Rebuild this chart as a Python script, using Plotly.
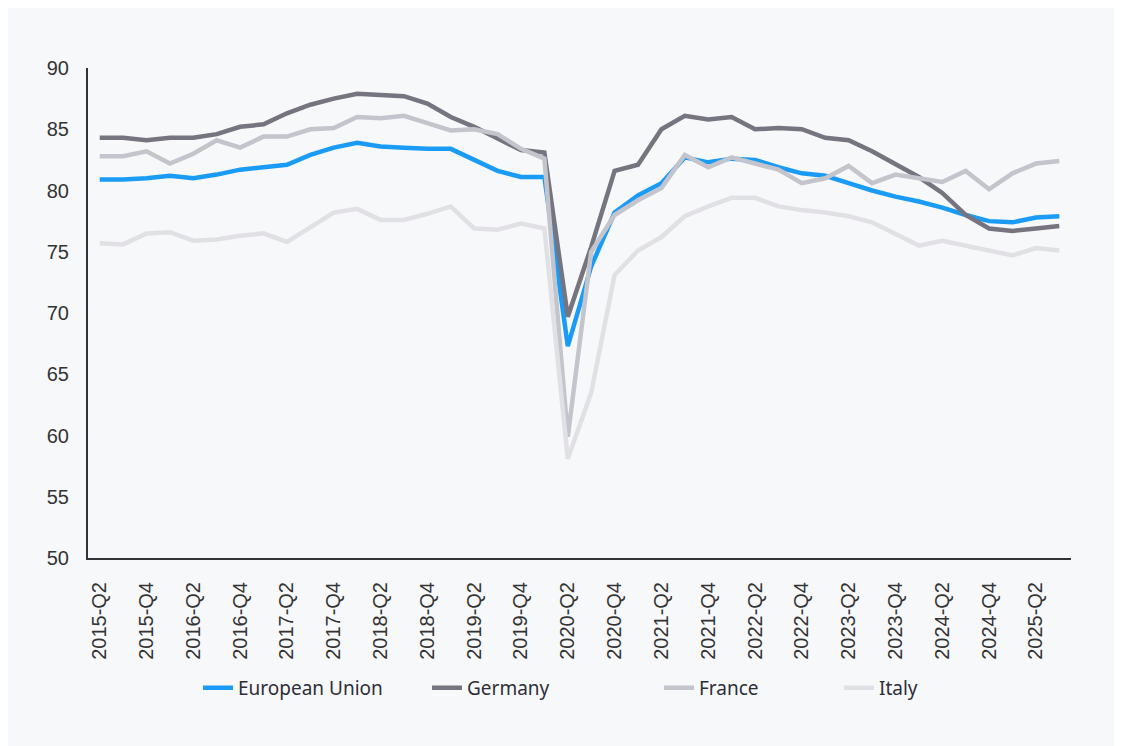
import plotly.graph_objects as go

quarters = []
for y in range(2015, 2026):
    for q in range(1, 5):
        quarters.append(f"{y}-Q{q}")
quarters = quarters[quarters.index("2015-Q2"):quarters.index("2025-Q3") + 1]

eu = [80.9, 80.9, 81.0, 81.2, 81.0, 81.3, 81.7, 81.9, 82.1, 82.9, 83.5, 83.9,
      83.6, 83.5, 83.4, 83.4, 82.5, 81.6, 81.1, 81.1, 67.3, 73.8, 78.2, 79.6,
      80.6, 82.7, 82.3, 82.6, 82.5, 81.9, 81.4, 81.2, 80.6, 80.0, 79.5, 79.1,
      78.6, 78.0, 77.5, 77.4, 77.8, 77.9]
germany = [84.3, 84.3, 84.1, 84.3, 84.3, 84.6, 85.2, 85.4, 86.3, 87.0, 87.5, 87.9,
           87.8, 87.7, 87.1, 86.0, 85.2, 84.2, 83.3, 83.1, 69.7, 75.4, 81.6, 82.1,
           85.0, 86.1, 85.8, 86.0, 85.0, 85.1, 85.0, 84.3, 84.1, 83.2, 82.2, 81.1,
           79.8, 78.0, 76.9, 76.7, 76.9, 77.1]
france = [82.8, 82.8, 83.2, 82.2, 83.0, 84.1, 83.5, 84.4, 84.4, 85.0, 85.1, 86.0,
          85.9, 86.1, 85.5, 84.9, 85.0, 84.6, 83.4, 82.6, 59.9, 75.0, 78.0, 79.2,
          80.2, 82.9, 81.9, 82.7, 82.2, 81.7, 80.6, 81.0, 82.0, 80.6, 81.3, 81.0,
          80.7, 81.6, 80.1, 81.4, 82.2, 82.4]
italy = [75.7, 75.6, 76.5, 76.6, 75.9, 76.0, 76.3, 76.5, 75.8, 77.0, 78.2, 78.5,
         77.6, 77.6, 78.1, 78.7, 76.9, 76.8, 77.3, 76.9, 58.1, 63.5, 73.1, 75.1,
         76.2, 77.9, 78.7, 79.4, 79.4, 78.7, 78.4, 78.2, 77.9, 77.4, 76.5, 75.5,
         75.9, 75.5, 75.1, 74.7, 75.3, 75.1]

series_names = ["European Union", "Germany", "France", "Italy"]
series_values = [eu, germany, france, italy]
series_colors = ["#1A9BF5", "#75747F", "#C4C4CC", "#E1E1E5"]

tick_labels = quarters[::2]

W, H = 1108, 738
L, R, T, B = 80, 45, 60, 188
PW = W - L - R

# legend item left positions (figure px)
legend_px = [190, 419, 651, 831]
legend_ids = ["legend", "legend2", "legend3", "legend4"]

fig = go.Figure()
for name, vals, col, lid in zip(series_names, series_values, series_colors, legend_ids):
    fig.add_trace(go.Scatter(x=quarters, y=vals, mode="lines", name=name, legend=lid,
                             line=dict(color=col, width=4.5)))

layout_legends = {}
for lid, px in zip(legend_ids, legend_px):
    layout_legends[lid] = dict(
        orientation="h", x=(px - L) / PW, xanchor="left", y=-0.265, yanchor="middle",
        font=dict(family="Noto Sans", size=19, color="#2E2E38"),
        bgcolor="rgba(0,0,0,0)")

fig.update_layout(
    width=W, height=H,
    margin=dict(l=L, r=R, t=T, b=B),
    paper_bgcolor="#F7F8FA", plot_bgcolor="#F7F8FA",
    font=dict(family="Liberation Sans, Arial", size=20, color="#333333"),
    showlegend=True,
    xaxis=dict(type="category", tickmode="array", tickvals=tick_labels, ticktext=tick_labels,
               range=[-0.5, len(quarters) - 0.5],
               tickangle=-90, showgrid=False, showline=True, linecolor="#333333", linewidth=2,
               ticks="", ticklabelstandoff=14, zeroline=False),
    yaxis=dict(range=[50, 90], dtick=5, showgrid=False, showline=True, linecolor="#333333",
               linewidth=2, ticks="", ticklabelstandoff=13, zeroline=False),
    **layout_legends,
)

fig.write_html("out.html")
